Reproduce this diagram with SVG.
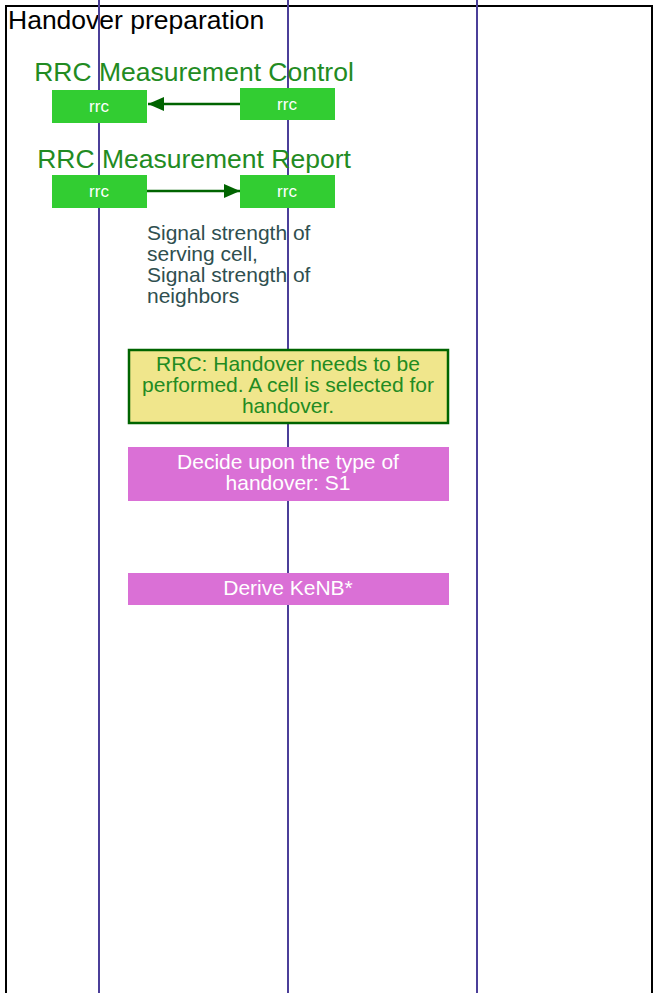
<svg xmlns="http://www.w3.org/2000/svg" width="654" height="993" viewBox="0 0 654 993">
<defs>
<style>
.life{stroke:#4b3f99;stroke-width:2;fill:none}
.rrc{fill:#32cd32}
.rrct{fill:#fff;font-family:"Liberation Sans",Arial,sans-serif;font-size:17px;text-anchor:middle}
.lbl{fill:#228b22;font-family:"Liberation Sans",Arial,sans-serif;font-size:26.5px;text-anchor:middle}
.msg{stroke:#006400;stroke-width:2.5;fill:none}
.note{fill:#2f4f4f;font-family:"Liberation Sans",Arial,sans-serif;font-size:21px}
.act{fill:#da70d6}
.actt{fill:#fff;font-family:"Liberation Sans",Arial,sans-serif;font-size:21px;text-anchor:middle}
.dec{fill:#f0e68c;stroke:#006400;stroke-width:2.5}
.dect{fill:#228b22;font-family:"Liberation Sans",Arial,sans-serif;font-size:21px;text-anchor:middle}
</style>
<marker id="ahb" viewBox="0 0 16 14" markerWidth="16" markerHeight="14" refX="16" refY="7" orient="auto" markerUnits="userSpaceOnUse">
<path d="M0,0 L16,7 L0,14 z" fill="#006400"/>
</marker>
</defs>
<rect x="0" y="0" width="654" height="993" fill="#fff"/>
<g id="frame">
<rect x="6" y="6" width="646" height="1000" fill="none" stroke="#000" stroke-width="2"/>
<text x="8" y="29" font-family="'Liberation Sans',Arial,sans-serif" font-size="26.5" fill="#000">Handover preparation</text>
</g>
<g id="lifelines">
<line class="life" x1="99" y1="0" x2="99" y2="993"/>
<line class="life" x1="288" y1="0" x2="288" y2="993"/>
<line class="life" x1="477" y1="0" x2="477" y2="993"/>
</g>
<g id="connectors">
<line class="msg" x1="240" y1="104" x2="148" y2="104" marker-end="url(#ahb)"/>
<line class="msg" x1="147" y1="191" x2="240" y2="191" marker-end="url(#ahb)"/>
</g>
<g id="msg1">
<text class="lbl" x="194" y="81">RRC Measurement Control</text>
<rect class="rrc" x="52" y="90" width="95" height="33"/>
<text class="rrct" x="99" y="112">rrc</text>
<rect class="rrc" x="240" y="88" width="95" height="32"/>
<text class="rrct" x="287" y="110">rrc</text>
</g>
<g id="msg2">
<text class="lbl" x="194" y="168">RRC Measurement Report</text>
<rect class="rrc" x="52" y="175" width="95" height="33"/>
<text class="rrct" x="99" y="197">rrc</text>
<rect class="rrc" x="240" y="175" width="95" height="33"/>
<text class="rrct" x="287" y="197">rrc</text>
</g>
<g id="note">
<text class="note" x="147" y="240">Signal strength of</text>
<text class="note" x="147" y="261">serving cell,</text>
<text class="note" x="147" y="282">Signal strength of</text>
<text class="note" x="147" y="303">neighbors</text>
</g>
<g id="decision">
<rect class="dec" x="129" y="350" width="319" height="73"/>
<text class="dect" x="288" y="371">RRC: Handover needs to be</text>
<text class="dect" x="288" y="392">performed. A cell is selected for</text>
<text class="dect" x="288" y="413">handover.</text>
</g>
<g id="decide">
<rect class="act" x="128" y="447" width="321" height="54"/>
<text class="actt" x="288" y="469">Decide upon the type of</text>
<text class="actt" x="288" y="490">handover: S1</text>
</g>
<g id="derive">
<rect class="act" x="128" y="573" width="321" height="32"/>
<text class="actt" x="288" y="595">Derive KeNB*</text>
</g>
</svg>
